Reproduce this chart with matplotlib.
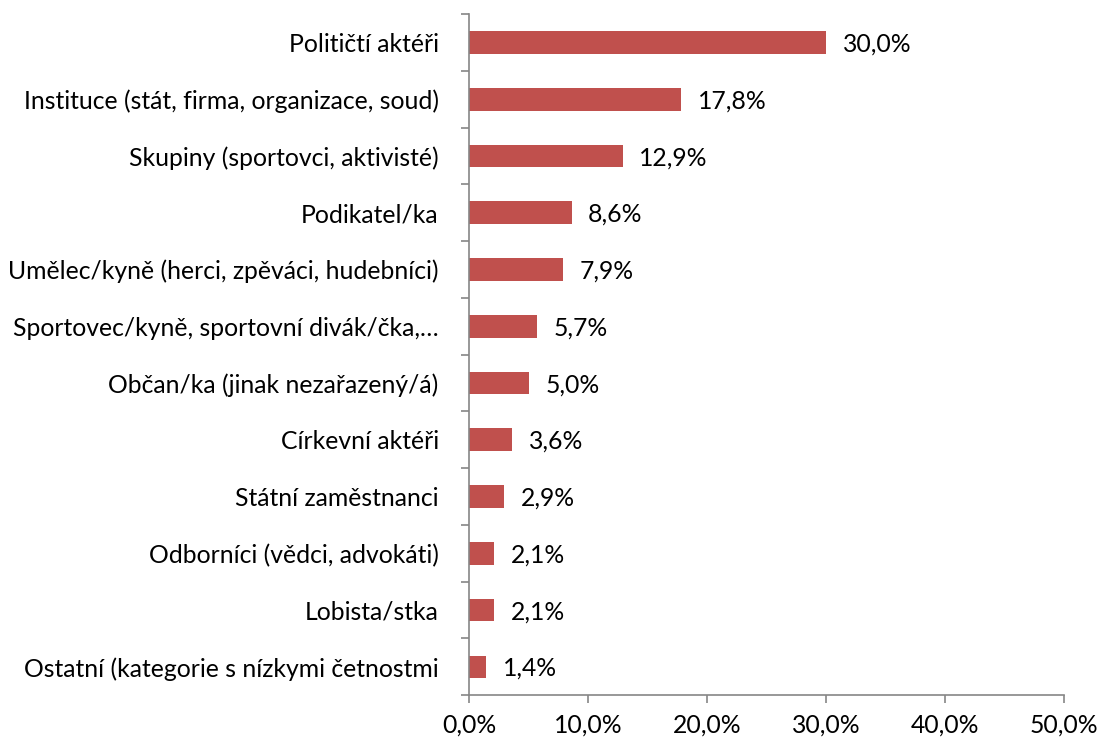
import numpy as np
import matplotlib.pyplot as plt
from matplotlib.ticker import FuncFormatter, FixedLocator

plt.rcParams['font.family'] = ['Lato', 'DejaVu Sans']

categories = [
    'Političtí aktéři',
    'Instituce (stát, firma, organizace, soud)',
    'Skupiny (sportovci, aktivisté)',
    'Podikatel/ka',
    'Umělec/kyně (herci, zpěváci, hudebníci)',
    'Sportovec/kyně, sportovní divák/čka,…',
    'Občan/ka (jinak nezařazený/á)',
    'Církevní aktéři',
    'Státní zaměstnanci',
    'Odborníci (vědci, advokáti)',
    'Lobista/stka',
    'Ostatní (kategorie s nízkymi četnostmi',
]
values = [30.0, 17.8, 12.9, 8.6, 7.9, 5.7, 5.0, 3.6, 2.9, 2.1, 2.1, 1.4]
xticks = [0, 10, 20, 30, 40, 50]

def pct(v):
    return f'{v:.1f}%'.replace('.', ',')

fs = 17.8

fig = plt.figure(figsize=(10.99, 7.42), dpi=100)
ax = fig.add_axes([0.427, 0.063, 0.541, 0.918])

y = np.arange(len(categories))
ax.barh(y, values, height=0.4, color='#C0504D')
for yi, v in zip(y, values):
    ax.text(v + 1.4, yi + 0.03, pct(v), va='center', ha='left', fontsize=fs)

ax.set_ylim(len(categories) - 0.5, -0.5)
ax.set_xlim(0, 50)
ax.set_yticks(y)
ax.set_yticklabels(categories, fontsize=fs)
ax.tick_params(axis='y', length=0, pad=22)
ax.yaxis.set_minor_locator(FixedLocator(np.arange(-0.5, len(categories), 1)))
ax.tick_params(axis='y', which='minor', length=6, color='#868686', width=1.2)

ax.set_xticks(xticks)
ax.xaxis.set_major_formatter(FuncFormatter(lambda v, p: pct(v)))
ax.tick_params(axis='x', length=6, color='#868686', width=1.2, labelsize=fs, pad=7)

for s in ['top', 'right']:
    ax.spines[s].set_visible(False)
for s in ['left', 'bottom']:
    ax.spines[s].set_color('#868686')
    ax.spines[s].set_linewidth(1.2)

fig.savefig('out.png', dpi=100)
